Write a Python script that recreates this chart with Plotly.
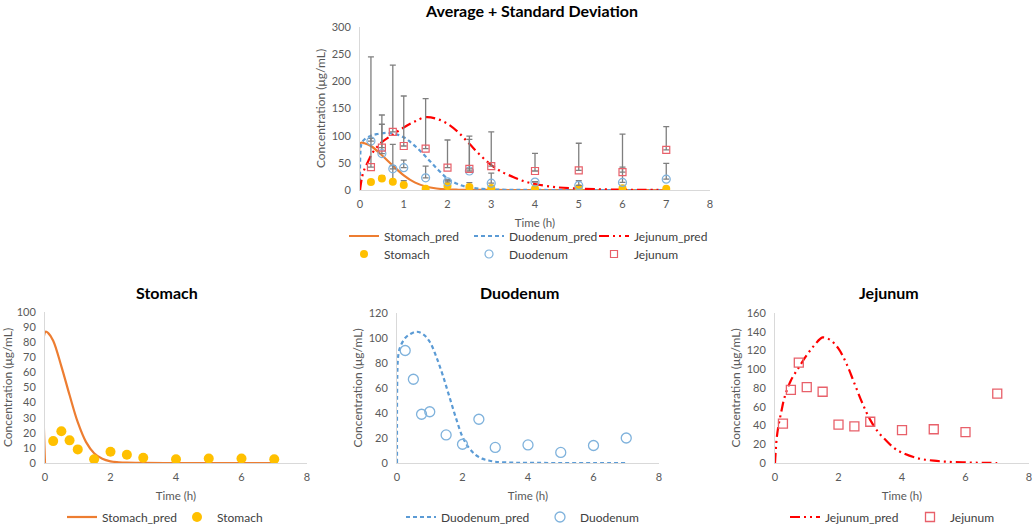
import plotly.graph_objects as go

# ---------------- data ----------------
obs_time = [0.25, 0.5, 0.75, 1, 1.5, 2, 2.5, 3, 4, 5, 6, 7]
stomach_obs = [14.5, 21, 15, 9, 2.5, 7.5, 5.5, 3.5, 2.5, 3, 3, 2.5]
duodenum_obs = [90, 67, 39, 41, 22.5, 15, 35, 12.5, 14.5, 8.5, 14, 20]
jejunum_obs = [42, 78, 107, 81, 76, 41, 39, 44, 35, 36, 33, 74]

stomach_sd = [3, 5, 30, 8, 2, 11, 8, 3, 1, 1, 1, 1]
duodenum_sd = [5, 54, 45, 14, 21.5, 3, 58, 18.5, 1, 8.5, 28, 29]
jejunum_sd = [203, 60, 123, 92, 92, 51, 60, 63, 32.5, 50, 70, 42.5]

stomach_pred_t = [0, 0.02, 0.1, 0.25, 0.5, 0.75, 1.0, 1.25, 1.5, 1.75, 2.0, 2.25, 2.5, 3, 4, 5, 6, 7]
stomach_pred = [0, 87, 86, 81, 64, 45, 27, 14, 6.5, 2.8, 1.1, 0.5, 0.2, 0.05, 0, 0, 0, 0]

duodenum_pred_t = [0, 0.02, 0.05, 0.1, 0.25, 0.4, 0.6, 0.8, 1.0, 1.2, 1.4, 1.6, 1.8, 2.0, 2.2, 2.4, 2.6, 2.8, 3.0, 3.5, 4, 5, 6, 7]
duodenum_pred = [0, 80, 88, 93, 100, 103, 105, 103, 97, 85, 70, 53, 36, 21, 12, 6.5, 3.5, 2, 1, 0.3, 0.1, 0, 0, 0]

jejunum_pred_t = [0, 0.05, 0.1, 0.2, 0.3, 0.5, 0.75, 1.0, 1.25, 1.5, 1.75, 2.0, 2.25, 2.5, 2.75, 3.0, 3.25, 3.5, 3.75, 4.0, 4.5, 5.0, 5.5, 6.0, 6.5, 7.0]
jejunum_pred = [0, 25, 38, 55, 70, 88, 102, 115, 126, 134, 131, 122, 106, 85, 64, 46, 33, 24, 16, 11, 5, 2.5, 1.2, 0.6, 0.2, 0]

titles = ["Average + Standard Deviation", "Stomach", "Duodenum", "Jejunum"]
x_title = "Time (h)"
y_title = "Concentration (μg/mL)"

# ---------------- style ----------------
W, H = 1035, 525
FONT = "Lato"
C_ST, C_DU, C_JE = "#ED7D31", "#5B9BD5", "#FF0000"
C_ST_M, C_DU_M, C_JE_M = "#FFC000", "#7FB2DC", "#E8606A"
TXT = "#595959"
JDASH = "10px,4px,2px,4px,2px,4px"
DDASH = "4px,3px"


def px_x(a, b):
    return [a / W, b / W]


def px_y(top, bottom):
    return [1 - bottom / H, 1 - top / H]


fig = go.Figure()

# top chart (x, y)
fig.add_trace(go.Scatter(x=stomach_pred_t, y=stomach_pred, mode="lines", name="Stomach_pred",
                         line=dict(color=C_ST, width=2.2, shape="spline"), xaxis="x", yaxis="y", legend="legend"))
fig.add_trace(go.Scatter(x=duodenum_pred_t, y=duodenum_pred, mode="lines", name="Duodenum_pred",
                         line=dict(color=C_DU, width=2.2, dash=DDASH, shape="spline"), xaxis="x", yaxis="y", legend="legend"))
fig.add_trace(go.Scatter(x=jejunum_pred_t, y=jejunum_pred, mode="lines", name="Jejunum_pred",
                         line=dict(color=C_JE, width=2.2, dash=JDASH, shape="spline"), xaxis="x", yaxis="y", legend="legend"))

err = dict(type="data", symmetric=False, color="#7F7F7F", thickness=1.3, width=3)
fig.add_trace(go.Scatter(x=obs_time, y=stomach_obs, mode="markers", name="Stomach",
                         marker=dict(color=C_ST_M, size=8, symbol="circle"),
                         error_y=dict(array=stomach_sd, arrayminus=[0] * len(obs_time), **err),
                         xaxis="x", yaxis="y", legend="legend2"))
fig.add_trace(go.Scatter(x=obs_time, y=duodenum_obs, mode="markers", name="Duodenum",
                         marker=dict(color=C_DU_M, size=8, symbol="circle-open", line=dict(width=1.2)),
                         error_y=dict(array=duodenum_sd, arrayminus=[0] * len(obs_time), **err),
                         xaxis="x", yaxis="y", legend="legend2"))
fig.add_trace(go.Scatter(x=obs_time, y=jejunum_obs, mode="markers", name="Jejunum",
                         marker=dict(color=C_JE_M, size=7, symbol="square-open", line=dict(width=1.2)),
                         error_y=dict(array=jejunum_sd, arrayminus=[0] * len(obs_time), **err),
                         xaxis="x", yaxis="y", legend="legend2"))

# Stomach (x2, y2)
fig.add_trace(go.Scatter(x=stomach_pred_t, y=stomach_pred, mode="lines", name="Stomach_pred",
                         line=dict(color=C_ST, width=2.2, shape="spline"), xaxis="x2", yaxis="y2", legend="legend3"))
fig.add_trace(go.Scatter(x=obs_time, y=stomach_obs, mode="markers", name="Stomach",
                         marker=dict(color=C_ST_M, size=10), xaxis="x2", yaxis="y2", legend="legend3"))
# Duodenum (x3, y3)
fig.add_trace(go.Scatter(x=duodenum_pred_t, y=duodenum_pred, mode="lines", name="Duodenum_pred",
                         line=dict(color=C_DU, width=2.2, dash=DDASH, shape="spline"), xaxis="x3", yaxis="y3", legend="legend4"))
fig.add_trace(go.Scatter(x=obs_time, y=duodenum_obs, mode="markers", name="Duodenum",
                         marker=dict(color=C_DU_M, size=10, symbol="circle-open", line=dict(width=1.3)),
                         xaxis="x3", yaxis="y3", legend="legend4"))
# Jejunum (x4, y4)
fig.add_trace(go.Scatter(x=jejunum_pred_t, y=jejunum_pred, mode="lines", name="Jejunum_pred",
                         line=dict(color=C_JE, width=2.2, dash=JDASH, shape="spline"), xaxis="x4", yaxis="y4", legend="legend5"))
fig.add_trace(go.Scatter(x=obs_time, y=jejunum_obs, mode="markers", name="Jejunum",
                         marker=dict(color=C_JE_M, size=9, symbol="square-open", line=dict(width=1.3)),
                         xaxis="x4", yaxis="y4", legend="legend5"))


def xax(dom, anchor, dtick):
    return dict(domain=dom, anchor=anchor, range=[0, 8], dtick=dtick, showgrid=False, zeroline=False,
                showline=True, linecolor="#D9D9D9", linewidth=1, ticks="", automargin=False,
                ticklabelstandoff=4,
                tickfont=dict(family=FONT, size=11, color=TXT),
                title=dict(text=x_title, font=dict(family=FONT, size=11.5, color=TXT), standoff=9))


def yax(dom, anchor, rng, dtick):
    return dict(domain=dom, anchor=anchor, range=rng, dtick=dtick, showgrid=False, zeroline=False,
                showline=True, linecolor="#D9D9D9", linewidth=1, ticks="", automargin=False,
                ticklabelstandoff=6,
                tickfont=dict(family=FONT, size=11, color=TXT),
                title=dict(text=y_title, font=dict(family=FONT, size=12, color=TXT), standoff=3))


fig.update_layout(
    width=W, height=H, margin=dict(l=0, r=0, t=0, b=0, autoexpand=False),
    paper_bgcolor="white", plot_bgcolor="white",
    xaxis=xax(px_x(360, 710), "y", 1), yaxis=yax(px_y(27, 190), "x", [0, 300], 50),
    xaxis2=xax(px_x(45, 307), "y2", 2), yaxis2=yax(px_y(312, 463), "x2", [0, 100], 10),
    xaxis3=xax(px_x(397, 659), "y3", 2), yaxis3=yax(px_y(313, 463), "x3", [0, 120], 20),
    xaxis4=xax(px_x(775, 1029), "y4", 2), yaxis4=yax(px_y(313, 463), "x4", [0, 160], 20),
)

leg_common = dict(orientation="h", xanchor="left", yanchor="middle", bgcolor="rgba(0,0,0,0)",
                  font=dict(family=FONT, size=12, color="#404040"), entrywidthmode="pixels",
                  tracegroupgap=0, itemwidth=30)
fig.update_layout(
    legend=dict(x=344 / W, y=1 - 236 / H, entrywidth=80, **leg_common),
    legend2=dict(x=344 / W, y=1 - 254 / H, entrywidth=80, **leg_common),
    legend3=dict(x=62 / W, y=1 - 517 / H, entrywidth=70, **leg_common),
    legend4=dict(x=401 / W, y=1 - 517 / H, entrywidth=94, **leg_common),
    legend5=dict(x=785 / W, y=1 - 517 / H, entrywidth=80, **leg_common),
)

title_pos = [(531, 10), (167, 292), (519, 292), (889, 292)]
for t, (cx, cy) in zip(titles, title_pos):
    fig.add_annotation(text="<b>%s</b>" % t, x=cx / W, y=1 - cy / H, xref="paper", yref="paper",
                       showarrow=False, xanchor="center", yanchor="middle",
                       font=dict(family=FONT, size=16, color="#000000"))

fig.write_html("out.html", config={"displayModeBar": False},
               post_script="document.body.style.margin='0';document.body.style.overflow='hidden';")
